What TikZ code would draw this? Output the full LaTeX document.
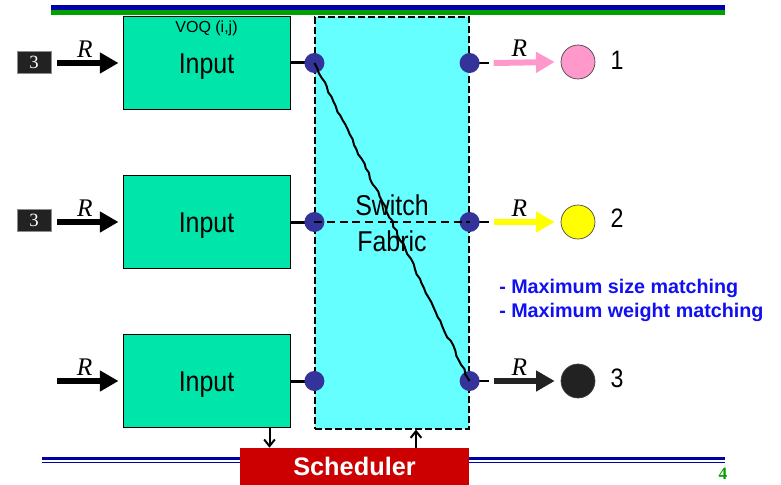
\documentclass[tikz,border=0pt]{standalone}
\usepackage{fontspec}
\setmainfont{Liberation Sans}
\newfontfamily\timesfont{Liberation Serif}
\newfontfamily\narrowfont[FakeStretch=0.87]{Liberation Sans}
\usepackage{tikz}
\usetikzlibrary{shapes,arrows.meta,positioning,calc,decorations.pathmorphing}
\definecolor{voqgreen}{HTML}{00E6AA}
\definecolor{fabriccyan}{HTML}{66FFFF}
\definecolor{portblue}{HTML}{333399}
\definecolor{destpink}{HTML}{FF99CC}
\definecolor{destyellow}{HTML}{FFFF00}
\definecolor{destdark}{HTML}{222222}
\definecolor{schedred}{HTML}{CC0000}
\definecolor{bandblue}{HTML}{0000AA}
\definecolor{bandgreen}{HTML}{00A000}
\definecolor{noteblue}{HTML}{1010F0}
\tikzstyle{inputbox} = [rectangle, draw=black, line width=0.75pt, fill=voqgreen,
    minimum width=125.25pt, minimum height=69.75pt, inner sep=0pt, text height=15.4pt, text depth=0pt,
    font=\narrowfont\fontsize{21.5}{24}\selectfont]
\tikzstyle{fabricbox} = [rectangle, draw=black, line width=0.9pt, dash pattern=on 5pt off 2.5pt,
    fill=fabriccyan, minimum width=115.5pt, minimum height=309pt, inner sep=0pt]
\tikzstyle{port} = [circle, fill=portblue, minimum size=15pt, inner sep=0pt]
\tikzstyle{dest} = [circle, draw=black!75, line width=0.5pt, minimum size=25.5pt, inner sep=0pt]
\tikzstyle{srcbox} = [rectangle, fill=destdark, draw=black!45, line width=0.4pt, minimum width=25.5pt,
    minimum height=16.5pt, inner sep=0pt, text=white, font=\timesfont\fontsize{14}{14}\selectfont]
\tikzstyle{fat} = [-{Triangle[length=14pt,width=15pt]}, line width=4.5pt]
\tikzstyle{rate} = [text=black, font=\timesfont\itshape\fontsize{19}{19}\selectfont]
\tikzstyle{wire} = [line width=2.25pt]
\tikzstyle{tick} = [-{Straight Barb[length=5pt,width=8pt]}, line width=1.5pt]
\tikzstyle{outlabel} = [font=\narrowfont\fontsize{20}{20}\selectfont]

\begin{document}
\begin{tikzpicture}[x=0.75pt, y=-0.75pt]
\useasboundingbox (0,0) rectangle (781,485);
\fill[bandblue] (51,5) rectangle (725,10);
\fill[bandgreen] (51,10) rectangle (725,15);
\fill[bandblue] (42,456.5) rectangle (725,460);
\fill[bandblue] (42,461.5) rectangle (725,462.5);

\node[fabricbox] (fabric) at (392,223) {};
\node[inputbox] (in1) at (206.5,63) {Input};
\node[inputbox] (in2) at (206.5,222) {Input};
\node[inputbox] (in3) at (206.5,381) {Input};
\node[font=\fontsize{12}{12}\selectfont] (voq) at ([yshift=-9pt]in1.north) {VOQ (i,j)};
\node[rectangle, fill=schedred, minimum width=171.75pt, minimum height=27.75pt, inner sep=0pt,
  text=white, font=\bfseries\fontsize{19}{19}\selectfont] (sched) at (354.5,466.5) {Scheduler};

\foreach \i in {1,2,3} {
  \draw[wire] (in\i.east) -- (fabric.west |- in\i.east);
  \draw[line width=1.5pt] (fabric.east |- in\i.east) -- ++(19,0);
  \node[port] (l\i) at (fabric.west |- in\i.east) {};
  \node[port] (r\i) at (fabric.east |- in\i.east) {};
}
\draw[line width=1.5pt, dash pattern=on 6pt off 3.5pt] (l2.center) -- (r2.center);
\pgfmathsetseed{7}
\draw[line width=1.5pt, decorate, decoration={random steps, segment length=4pt, amplitude=0.8pt}]
  (l1.center) -- (r3.center);
\node[font=\narrowfont\fontsize{21.5}{27}\selectfont, align=center] (label) at (fabric.center) {Switch\\Fabric};

\node[srcbox] (src1) at (34,62) {3};
\node[srcbox] (src2) at (34,220) {3};
\coordinate (src3) at (51,381);
\foreach \i in {1,2,3}
  \draw[fat] ([xshift=4.5pt]src\i.east |- in\i.west) -- ([xshift=-3pt]in\i.west)
    node[rate, pos=0.45, yshift=10.5pt] {R};

\node[dest, fill=destpink] (o1) at (578,62) {};
\node[dest, fill=destyellow] (o2) at (578,222) {};
\node[dest, fill=destdark] (o3) at (578,381) {};
\draw[fat, destpink] ([xshift=18pt]r1.center) -- ([xshift=-4.5pt]o1.west) node[rate, pos=0.42, yshift=10.5pt] {R};
\draw[fat, destyellow] ([xshift=18pt]r2.center) -- ([xshift=-4.5pt]o2.west) node[rate, pos=0.42, yshift=10.5pt] {R};
\draw[fat, destdark] ([xshift=18pt]r3.center) -- ([xshift=-4.5pt]o3.west) node[rate, pos=0.42, yshift=10.5pt] {R};
\node[outlabel] (n1) at (617,60) {1};
\node[outlabel] (n2) at (617,218) {2};
\node[outlabel] (n3) at (617,378) {3};

\node[anchor=west, align=left, inner sep=0pt, text=noteblue, font=\bfseries\fontsize{14.8}{18}\selectfont]
  (notes) at (499,300) {- Maximum size matching\\- Maximum weight matching};

\coordinate (d1) at ([xshift=-15.75pt]in3.south east);
\coordinate (u1) at ([xshift=18pt]fabric.south);
\draw[tick] (d1) -- (d1 |- sched.north);
\draw[tick] (u1 |- sched.north) -- (u1);

\node[text=bandgreen, font=\timesfont\bfseries\fontsize{13}{13}\selectfont] (page) at (723,474) {4};
\end{tikzpicture}
\end{document}
